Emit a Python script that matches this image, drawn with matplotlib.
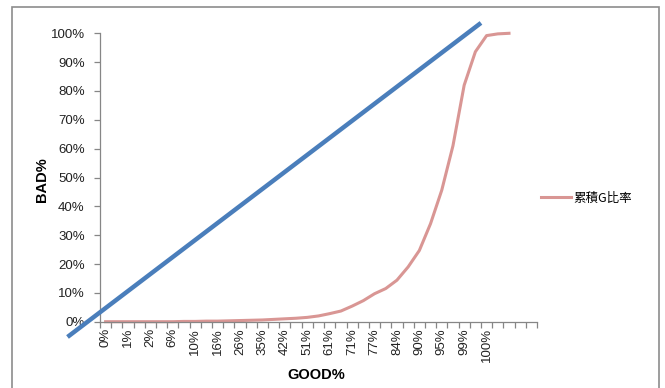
import numpy as np
import matplotlib
matplotlib.use('Agg')
import matplotlib.pyplot as plt
from matplotlib.patches import Rectangle

plt.rcParams['font.family'] = ['Liberation Sans', 'Noto Sans CJK TC', 'DejaVu Sans']

# cumulative share of goods (pink series), one value per category
cum_g = [0.000, 0.000, 0.000, 0.000, 0.000, 0.000, 0.000, 0.001, 0.001, 0.002,
         0.002, 0.003, 0.004, 0.005, 0.006, 0.008, 0.010, 0.012, 0.015, 0.020,
         0.028, 0.037, 0.054, 0.073, 0.097, 0.115, 0.144, 0.190, 0.247, 0.340,
         0.456, 0.610, 0.820, 0.936, 0.992, 0.998, 1.000]
n_categories = 39

# only every other category carries a visible label
tick_labels = ['0%', '1%', '2%', '6%', '10%', '16%', '26%', '35%', '42%',
               '51%', '61%', '71%', '77%', '84%', '90%', '95%', '99%', '100%']

# reference diagonal drawn across the plot
diag_x = [-3.4, 33.5]
diag_y = [-0.053, 1.036]

fig = plt.figure(figsize=(6.65, 3.88), dpi=100)
ax = fig.add_axes([100 / 665, 1 - 321.7 / 388, 437 / 665, 288.4 / 388])

ax.plot(diag_x, diag_y, color='#4A7EBB', lw=3.2, solid_capstyle='butt',
        clip_on=False, zorder=3)
line, = ax.plot(range(len(cum_g)), cum_g, color='#D99694', lw=2.2,
                clip_on=False, zorder=2, label='累積G比率')

ax.set_xlim(-0.5, n_categories - 0.5)
ax.set_ylim(0, 1)

for side in ['top', 'right']:
    ax.spines[side].set_visible(False)
for side in ['left', 'bottom']:
    ax.spines[side].set_color('#868686')
    ax.spines[side].set_linewidth(0.9)

ax.set_yticks(np.arange(0, 1.01, 0.1))
ax.set_yticklabels([f'{int(round(v * 100))}%' for v in np.arange(0, 1.01, 0.1)])
ax.tick_params(axis='y', length=4, width=0.9, color='#868686', pad=7,
               labelsize=9.5, labelcolor='#222222')

# tick marks on category boundaries, labels on category centres
ax.set_xticks(np.arange(-0.5, n_categories, 1.0))
ax.set_xticklabels([])
ax.set_xticks(np.arange(0, 2 * len(tick_labels), 2), minor=True)
ax.set_xticklabels(tick_labels, minor=True, rotation=90, fontsize=9.5,
                   color='#222222')
ax.tick_params(axis='x', which='major', length=4, width=0.9, color='#868686')
ax.tick_params(axis='x', which='minor', length=0, pad=4.5)

fig.text(42 / 665, 1 - 180 / 388, 'BAD%', rotation=90, ha='center',
         va='center', fontsize=10.5, fontweight='bold')
fig.text(316 / 665, 1 - 375 / 388, 'GOOD%', ha='center', va='center',
         fontsize=10.5, fontweight='bold')

fig.legend(handles=[line], loc='center left', frameon=False,
           bbox_to_anchor=(530 / 665, 1 - 198 / 388), handlelength=2.4,
           handletextpad=0.2, prop={'family': ['Noto Sans CJK TC'], 'size': 9})

# outer chart frame
fig.patches.append(Rectangle((12 / 665, -0.05), 647 / 665, 1.05 - 7 / 388,
                             transform=fig.transFigure, fill=False,
                             edgecolor='#8C8C8C', lw=1.2))

fig.savefig('out.png', dpi=100)
